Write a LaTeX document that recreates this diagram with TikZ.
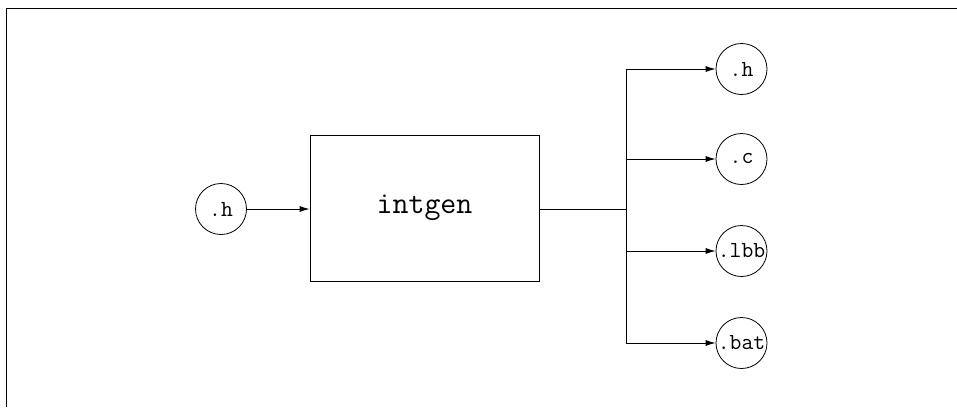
\documentclass[tikz,border=0pt]{standalone}
\usepackage{fontspec}
\usetikzlibrary{arrows.meta}
\begin{document}
\begin{tikzpicture}[x=1pt,y=-1pt,
  line width=0.8pt,
  file/.style={draw,circle,minimum size=51pt,inner sep=0pt,font=\ttfamily\fontsize{23}{23}\selectfont},
  proc/.style={draw,rectangle,minimum width=229pt,minimum height=146pt,inner sep=0pt,font=\ttfamily\fontsize{31}{31}\selectfont},
  flow/.style={-{Latex[length=10pt,width=6pt]}}]
\useasboundingbox (0,0) rectangle (957,407);
\coordinate (tl) at (6,8);
\coordinate (tr) at (957,8);
\coordinate (bl) at (6,407);
\draw (tr) -- (tl) -- (bl);
\node[file] (in) at (221,209) {.h};
\node[proc] (gen) at (424.5,208) {intgen};
\node[file] (oh) at (741.5,69) {.h};
\node[file] (oc) at (741.5,159) {.c};
\node[file] (olbb) at (741.5,251) {.lbb};
\node[file] (obat) at (741.5,343) {.bat};
\coordinate (j) at (626,209);
\coordinate (jt) at (626,69);
\coordinate (jc) at (626,159);
\coordinate (jl) at (626,251);
\coordinate (jb) at (626,343);
\draw[flow] (in) -- (gen.west |- in);
\draw (gen.east |- j) -- (j);
\draw (jt) -- (jb);
\draw[flow] (jt) -- (oh);
\draw[flow] (jc) -- (oc);
\draw[flow] (jl) -- (olbb);
\draw[flow] (jb) -- (obat);
\end{tikzpicture}
\end{document}
